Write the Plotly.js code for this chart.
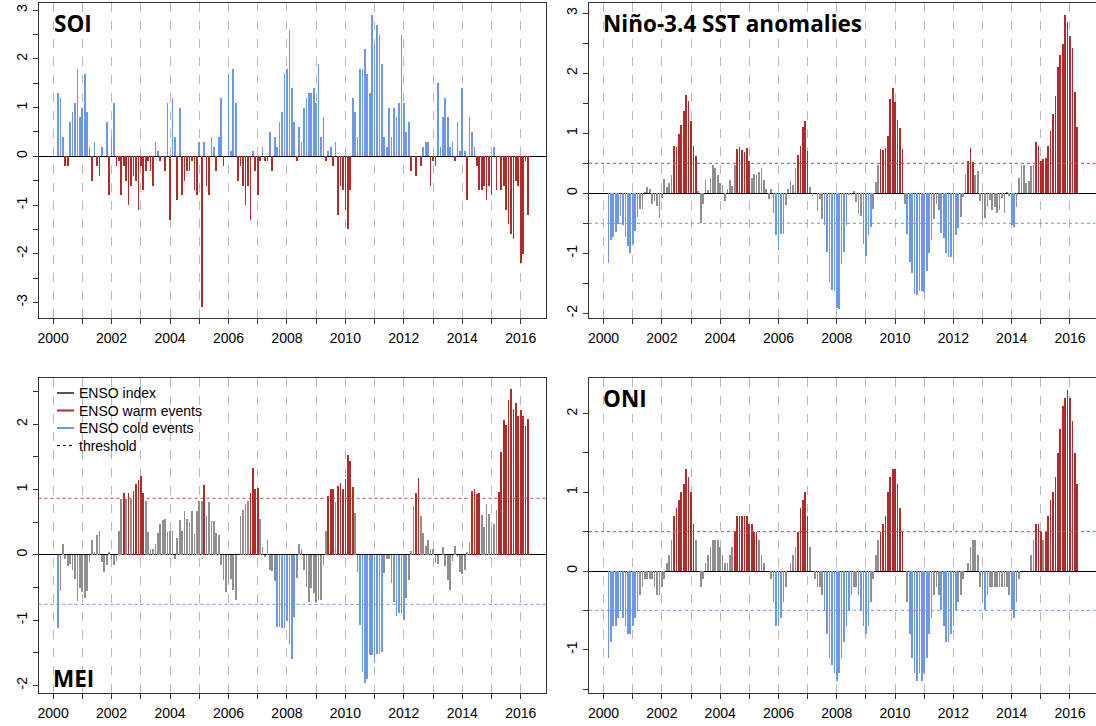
<!DOCTYPE html>
<html><head><meta charset="utf-8">
<script src="https://cdn.plot.ly/plotly-3.0.1.min.js"></script>
<style>html,body{margin:0;padding:0;background:#fff}#chart{width:1096px;height:726px}</style>
</head><body><div id="chart"></div>
<script>
// Monthly series, March 2000 .. April 2016
const START_YEAR = 2000, START_MONTH = 3;

const soi = [
 1.3, 1.2, 0.4, -0.2, -0.2, 0.7, 0.9, 1.1, 1.8, 0.8, 1.0, 1.7,
 0.9, 0.2, -0.5, 0.3, -0.2, -0.4, 0.2, 0.0, 0.7, -0.8, 0.4, 1.1,
 -0.2, -0.1, -0.8, -0.2, -0.5, -1.0, -0.6, -0.4, -0.5, -1.1, -0.2, -0.7,
 -0.3, -0.1, -0.3, -0.6, 0.3, 0.1, -0.1, 0.0, -0.3, 1.1, -1.3, 1.2,
 0.4, -0.9, 1.0, -0.8, -0.5, -0.3, -0.3, -0.1, -0.7, -0.8, 0.3, -3.1,
 0.3, -0.6, -0.8, 0.4, 0.2, -0.3, 0.4, 1.2, -0.2, 0.0, 1.7, 0.1,
 1.8, 1.1, -0.5, -0.2, -0.6, -1.0, -0.6, -1.3, 0.1, -0.3, -0.8, -0.1,
 0.2, -0.1, -0.1, 0.5, -0.3, 0.4, 0.2, 0.7, 0.9, 1.7, 1.8, 2.6,
 1.4, 0.7, -0.1, 0.6, 0.3, 1.0, 1.2, 1.3, 1.3, 1.4, 1.1, 1.9,
 0.4, 0.8, -0.1, 0.1, 0.2, -0.2, 0.3, -1.2, -0.6, -0.7, -1.1, -1.5,
 -0.7, 1.2, 0.9, 0.4, 1.8, 1.8, 2.2, 1.7, 1.3, 2.9, 2.3, 2.7,
 2.5, 1.9, 0.4, 0.2, 1.0, 0.4, 1.0, 0.8, 1.1, 2.5, 1.1, 0.5,
 0.7, -0.3, 0.0, -0.4, 0.0, -0.2, 0.2, 0.3, 0.3, -0.6, -0.1, -0.2,
 1.5, 0.2, 0.8, 1.2, 0.8, 0.2, 0.3, -0.1, 0.7, 0.1, 1.4, 0.1,
 -0.9, 0.8, 0.5, 0.2, -0.2, -0.7, -0.7, -0.6, -0.9, -0.6, -0.8, 0.2,
 -0.7, 0.0, -0.7, -0.6, -1.1, -1.4, -1.6, -1.7, -0.5, -0.6, -2.2, -2.0,
 -0.1, -1.2
];

const nino34 = [
 -1.16, -0.78, -0.73, -0.64, -0.51, -0.37, -0.53, -0.73, -0.88, -1.0, -0.84, -0.62,
 -0.39, -0.26, -0.26, 0.03, 0.11, 0.07, -0.18, -0.12, -0.21, -0.41, -0.07, 0.24,
 0.11, 0.18, 0.31, 0.79, 0.77, 0.99, 1.14, 1.38, 1.64, 1.54, 1.21, 0.79,
 0.62, 0.04, -0.49, -0.18, 0.22, 0.06, 0.25, 0.48, 0.42, 0.31, 0.18, 0.14,
 -0.12, 0.07, 0.22, 0.12, 0.48, 0.74, 0.77, 0.73, 0.69, 0.75, 0.54, 0.25,
 0.33, 0.30, 0.36, 0.42, 0.23, 0.07, -0.10, 0.07, -0.32, -0.69, -0.94, -0.67,
 -0.67, -0.19, 0.07, 0.21, 0.14, 0.42, 0.64, 0.79, 1.10, 1.21, 0.71, 0.10,
 -0.04, 0.0, -0.29, -0.10, -0.43, -0.52, -0.97, -1.47, -1.61, -1.63, -1.91, -1.92,
 -1.17, -0.97, -0.52, -0.03, -0.03, 0.04, -0.14, -0.35, -0.37, -0.85, -1.04, -0.69,
 -0.56, -0.26, 0.19, 0.48, 0.74, 0.72, 0.76, 0.96, 1.57, 1.75, 1.53, 1.23,
 1.09, 0.74, -0.18, -0.67, -1.14, -1.33, -1.67, -1.69, -1.63, -1.63, -1.65, -1.29,
 -1.0, -0.78, -0.43, -0.18, -0.27, -0.66, -0.75, -0.99, -1.06, -1.06, -1.10, -0.69,
 -0.58, -0.40, -0.06, 0.32, 0.54, 0.75, 0.53, 0.31, 0.38, -0.12, -0.42, -0.41,
 -0.22, -0.11, -0.28, -0.22, -0.32, -0.28, -0.07, -0.33, 0.02, -0.04, -0.52, -0.56,
 -0.22, 0.25, 0.47, 0.47, 0.18, 0.21, 0.46, 0.48, 0.86, 0.79, 0.54, 0.57,
 0.59, 0.79, 1.04, 1.33, 1.63, 2.10, 2.31, 2.49, 2.98, 2.85, 2.63, 2.43,
 1.69, 1.10
];

const mei = [
 -1.12, -0.55, 0.17, -0.06, -0.17, -0.14, -0.23, -0.37, -0.71, -0.51, -0.57, -0.66,
 -0.55, -0.11, 0.23, 0.04, 0.30, 0.37, -0.11, -0.27, -0.16, 0.04, -0.06, -0.16,
 -0.09, 0.36, 0.85, 0.95, 0.85, 0.95, 0.85, 0.98, 1.09, 1.14, 1.20, 0.94,
 0.83, 0.35, 0.09, 0.09, 0.17, 0.33, 0.47, 0.53, 0.54, 0.35, 0.36, 0.37,
 -0.06, 0.26, 0.53, 0.37, 0.67, 0.54, 0.50, 0.67, 0.31, 0.67, 0.82, 0.82,
 1.06, 0.59, 0.81, 0.52, 0.52, 0.34, 0.30, -0.16, -0.38, -0.57, -0.44, -0.37,
 -0.54, -0.69, 0.0, 0.60, 0.68, 0.77, 0.83, 0.94, 1.33, 1.00, 1.02, 0.55,
 0.12, -0.04, 0.23, -0.23, -0.25, -0.40, -1.10, -1.11, -1.12, -1.13, -1.02, -1.36,
 -1.59, -0.96, -0.36, 0.17, 0.08, -0.24, -0.49, -0.72, -0.51, -0.59, -0.72, -0.69,
 -0.69, -0.16, 0.37, 0.90, 1.01, 1.00, 0.81, 1.05, 1.10, 1.01, 1.16, 1.53,
 1.43, 1.04, 0.64, -0.27, -1.08, -1.79, -1.96, -1.90, -1.53, -1.54, -1.66, -1.52,
 -1.52, -1.49, -0.28, -0.06, -0.06, -0.44, -0.72, -0.94, -0.89, -0.91, -1.00, -0.67,
 -0.38, 0.06, 0.74, 0.94, 1.18, 0.59, 0.33, 0.14, 0.22, 0.08, 0.08, -0.13,
 -0.14, 0.0, 0.12, -0.18, -0.38, -0.54, -0.10, 0.14, -0.04, -0.26, -0.30, -0.24,
 0.04, 0.20, 0.97, 1.00, 0.93, 0.94, 0.61, 0.42, 0.78, 0.62, 0.43, 0.47,
 0.68, 0.96, 1.57, 2.07, 1.98, 2.37, 2.53, 2.23, 2.32, 2.13, 2.21, 2.13,
 1.97, 2.08
];

const oni = [
 -1.1, -0.9, -0.7, -0.7, -0.6, -0.5, -0.6, -0.7, -0.8, -0.8, -0.7, -0.6,
 -0.5, -0.3, -0.2, -0.1, -0.1, -0.1, -0.1, -0.2, -0.3, -0.3, -0.2, -0.1,
 0.1, 0.2, 0.4, 0.7, 0.8, 0.9, 1.0, 1.1, 1.3, 1.2, 1.0, 0.6,
 0.4, 0.0, -0.2, -0.1, 0.1, 0.2, 0.3, 0.4, 0.4, 0.4, 0.3, 0.2,
 0.1, 0.1, 0.2, 0.3, 0.5, 0.7, 0.7, 0.7, 0.7, 0.7, 0.6, 0.6,
 0.5, 0.5, 0.4, 0.2, 0.1, 0.0, 0.0, -0.1, -0.4, -0.7, -0.7, -0.6,
 -0.4, -0.2, 0.0, 0.1, 0.2, 0.3, 0.5, 0.8, 0.9, 1.0, 0.7, 0.3,
 0.0, -0.1, -0.2, -0.2, -0.3, -0.5, -0.8, -1.1, -1.2, -1.3, -1.4, -1.3,
 -1.1, -0.9, -0.7, -0.5, -0.3, -0.2, -0.2, -0.3, -0.5, -0.7, -0.8, -0.7,
 -0.4, -0.1, 0.2, 0.4, 0.5, 0.6, 0.7, 1.0, 1.2, 1.3, 1.3, 1.1,
 0.8, 0.5, 0.0, -0.4, -0.8, -1.1, -1.3, -1.4, -1.3, -1.4, -1.3, -1.1,
 -0.8, -0.6, -0.3, -0.2, -0.3, -0.5, -0.7, -0.9, -0.9, -0.8, -0.7, -0.5,
 -0.4, -0.3, -0.1, 0.0, 0.1, 0.3, 0.4, 0.4, 0.2, -0.2, -0.4, -0.5,
 -0.3, -0.2, -0.2, -0.2, -0.2, -0.2, -0.2, -0.2, -0.2, -0.3, -0.5, -0.6,
 -0.4, -0.1, 0.0, 0.0, 0.0, 0.0, 0.2, 0.4, 0.6, 0.6, 0.5, 0.4,
 0.5, 0.7, 0.9, 1.0, 1.2, 1.5, 1.8, 2.1, 2.2, 2.3, 2.2, 1.9,
 1.5, 1.1
];

const yearTicks = [2000,2001,2002,2003,2004,2005,2006,2007,2008,2009,2010,2011,2012,2013,2014,2015,2016];
const yearLabels = ['2000','','2002','','2004','','2006','','2008','','2010','','2012','','2014','','2016'];

const ensoThreshold = {warm: 0.5, cold: -0.5};
const meiThreshold = {warm: 0.864, cold: -0.76};

const titles = {soi: 'SOI', nino: 'Niño-3.4 SST anomalies', mei: 'MEI', oni: 'ONI'};
const legendLabels = ['ENSO index', 'ENSO warm events', 'ENSO cold events', 'threshold'];

// ---------- styling ----------
const RED = '#B22A2A', BLUE = '#6D97EA', GREY = '#8F8F8F', FRAME = '#333';
const W = 1096, H = 726;
const px = x => x / W, py = y => 1 - y / H;

const months = soi.map((_, i) => START_YEAR + (START_MONTH - 1 + i) / 12);

const EPS = 1e-9;
const soiColors = soi.map(v => v >= 0 ? BLUE : RED);

function barTrace(vals, colors, xa, ya) {
  return {type: 'bar', x: months, y: vals, width: 0.058, xaxis: xa, yaxis: ya,
    marker: {color: colors, line: {width: 0}}, hoverinfo: 'x+y', showlegend: false};
}

const traces = [
  barTrace(soi, soiColors, 'x', 'y'),
  barTrace(nino34, nino34.map(v => v > ensoThreshold.warm ? RED : (v < ensoThreshold.cold ? BLUE : GREY)), 'x2', 'y2'),
  barTrace(mei, mei.map(v => v > meiThreshold.warm ? RED : (v < meiThreshold.cold ? BLUE : GREY)), 'x3', 'y3'),
  barTrace(oni, oni.map(v => v >= ensoThreshold.warm - EPS ? RED : (v <= ensoThreshold.cold + EPS ? BLUE : GREY)), 'x4', 'y4')
];

const tickFont = {family: 'Liberation Sans, Arial, sans-serif', size: 14, color: '#000'};
function xax(domain, anchor) {
  return {domain, anchor, range: [1999.5, 2016.875], tickmode: 'array', tickvals: yearTicks, ticktext: yearLabels,
    ticks: 'outside', ticklen: 5, tickcolor: FRAME, tickwidth: 1, showline: true, linecolor: FRAME, linewidth: 1,
    mirror: true, showgrid: true, gridcolor: '#b8b8b8', gridwidth: 1, griddash: 'dash', zeroline: false,
    tickfont: tickFont, ticklabelstandoff: 2, fixedrange: true};
}
function yax(domain, anchor, range, lo, hi) {
  const vals = [], txt = [];
  for (let v = lo; v <= hi + 1e-9; v += 0.5) { vals.push(v); txt.push(Math.abs(v - Math.round(v)) < 1e-9 ? String(Math.round(v)) : ''); }
  return {domain, anchor, range, tickmode: 'array', tickvals: vals, ticktext: txt, tickangle: -90,
    ticks: 'outside', ticklen: 5, tickcolor: FRAME, tickwidth: 1, showline: true, linecolor: FRAME, linewidth: 1,
    mirror: true, showgrid: false, zeroline: true, zerolinecolor: '#000', zerolinewidth: 1,
    tickfont: tickFont, fixedrange: true};
}

const dxL = [px(38.5), px(546.3)], dxR = [px(589), px(1095.5)];
const dyT = [py(318), py(3)], dyB = [py(693), py(378)];

function thrLines(xa, ya, thr) {
  return [
    {type: 'line', xref: xa + ' domain', yref: ya, x0: 0, x1: 1, y0: thr.warm, y1: thr.warm,
     line: {color: '#C44848', width: 1, dash: 'dot'}, layer: 'above'},
    {type: 'line', xref: xa + ' domain', yref: ya, x0: 0, x1: 1, y0: thr.cold, y1: thr.cold,
     line: {color: '#6F97EC', width: 1, dash: 'dot'}, layer: 'above'}
  ];
}

const titleFont = {family: 'Open Sans, DejaVu Sans, sans-serif', size: 22.5, color: '#000'};
function title(text, x, y) {
  return {text: '<b>' + text + '</b>', xref: 'paper', yref: 'paper', x: px(x), y: py(y),
    xanchor: 'left', yanchor: 'middle', showarrow: false, font: titleFont};
}

// legend (MEI panel)
const legColors = ['#555555', RED, BLUE, '#000'];
const legDash = ['solid', 'solid', 'solid', 'dot'];
const legY = [393, 410.5, 428, 445.5];
const legShapes = legendLabels.map((_, i) => ({type: 'line', xref: 'paper', yref: 'paper',
  x0: px(57), x1: px(74), y0: py(legY[i]), y1: py(legY[i]),
  line: {color: legColors[i], width: i === 3 ? 1.2 : 2, dash: legDash[i]}}));
const legAnn = legendLabels.map((t, i) => ({text: t, xref: 'paper', yref: 'paper', x: px(77), y: py(legY[i]),
  xanchor: 'left', yanchor: 'middle', showarrow: false,
  font: {family: 'Liberation Sans, Arial, sans-serif', size: 14, color: '#000'}}));

const layout = {
  width: W, height: H, margin: {l: 0, r: 0, t: 0, b: 0}, paper_bgcolor: '#fff', plot_bgcolor: '#fff',
  showlegend: false, bargap: 0,
  xaxis: xax(dxL, 'y'), yaxis: yax(dyT, 'x', [-3.32, 3.148], -3, 3),
  xaxis2: xax(dxR, 'y2'), yaxis2: yax(dyT, 'x2', [-2.078, 3.172], -2, 3),
  xaxis3: xax(dxL, 'y3'), yaxis3: yax(dyB, 'x3', [-2.118, 2.706], -2, 2.5),
  xaxis4: xax(dxR, 'y4'), yaxis4: yax(dyB, 'x4', [-1.55, 2.452], -1.5, 2),
  shapes: [].concat(thrLines('x2', 'y2', ensoThreshold), thrLines('x3', 'y3', meiThreshold),
                    thrLines('x4', 'y4', ensoThreshold), legShapes),
  annotations: [title(titles.soi, 52, 23), title(titles.nino, 601, 23), title(titles.mei, 51, 678),
                title(titles.oni, 601, 398)].concat(legAnn)
};

Plotly.newPlot('chart', traces, layout, {displayModeBar: false, staticPlot: true});
</script>
</body></html>
